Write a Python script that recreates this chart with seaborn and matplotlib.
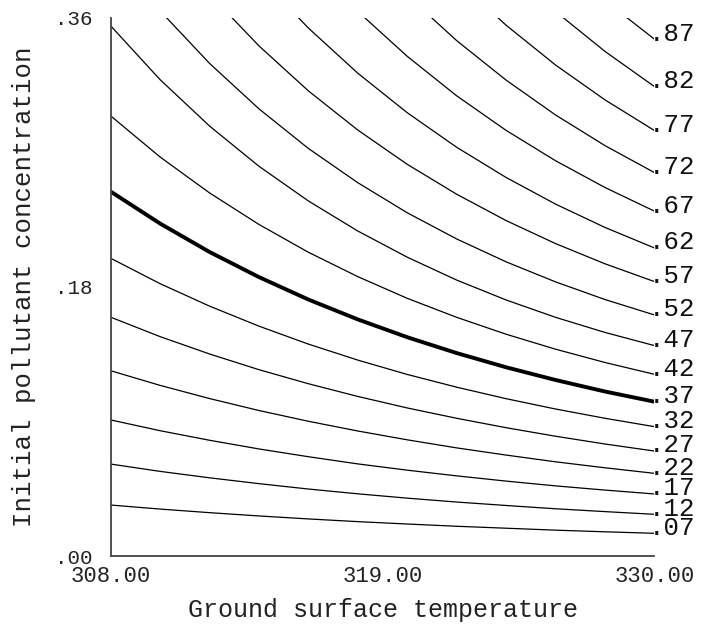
import numpy as np
import pandas as pd
import matplotlib
matplotlib.use("Agg")
import matplotlib.pyplot as plt
import seaborn as sns

# Ground surface temperature grid (K) shared by every iso-line
temperature = [308, 310, 312, 314, 316, 318, 320, 322, 324, 326, 328, 330]

# Iso-line levels, labelled at the right-hand edge
levels = [0.07, 0.12, 0.17, 0.22, 0.27, 0.32, 0.37, 0.42, 0.47,
          0.52, 0.57, 0.62, 0.67, 0.72, 0.77, 0.82, 0.87]

nan = np.nan
# Initial pollutant concentration along each iso-line (one row per level)
concentration = [
    [0.0341, 0.0314, 0.0290, 0.0268, 0.0248, 0.0230, 0.0214, 0.0199, 0.0186, 0.0173, 0.0162, 0.0152],
    [0.0615, 0.0566, 0.0523, 0.0484, 0.0448, 0.0416, 0.0387, 0.0361, 0.0338, 0.0316, 0.0297, 0.0279],
    [0.0910, 0.0838, 0.0774, 0.0716, 0.0664, 0.0616, 0.0574, 0.0536, 0.0501, 0.0469, 0.0441, 0.0415],
    [0.1239, 0.1141, 0.1053, 0.0973, 0.0901, 0.0836, 0.0777, 0.0723, 0.0675, 0.0630, 0.0590, 0.0553],
    [0.1597, 0.1467, 0.1351, 0.1246, 0.1152, 0.1067, 0.0990, 0.0921, 0.0858, 0.0801, 0.0749, 0.0702],
    [0.1991, 0.1821, 0.1671, 0.1537, 0.1417, 0.1310, 0.1214, 0.1129, 0.1052, 0.0983, 0.0921, 0.0865],
    [0.2437, 0.2223, 0.2033, 0.1865, 0.1715, 0.1582, 0.1463, 0.1357, 0.1262, 0.1177, 0.1100, 0.1032],
    [0.2943, 0.2668, 0.2428, 0.2217, 0.2031, 0.1868, 0.1723, 0.1596, 0.1483, 0.1383, 0.1294, 0.1215],
    [0.3545, 0.3185, 0.2875, 0.2606, 0.2374, 0.2173, 0.1998, 0.1845, 0.1712, 0.1596, 0.1495, 0.1407],
    [nan, 0.3645, 0.3294, 0.2990, 0.2725, 0.2496, 0.2295, 0.2120, 0.1967, 0.1833, 0.1715, 0.1612],
    [nan, nan, 0.3756, 0.3411, 0.3110, 0.2848, 0.2619, 0.2419, 0.2243, 0.2089, 0.1954, 0.1835],
    [nan, nan, nan, 0.3876, 0.3530, 0.3228, 0.2964, 0.2733, 0.2531, 0.2353, 0.2197, 0.2060],
    [nan, nan, nan, nan, nan, 0.3641, 0.3341, 0.3077, 0.2846, 0.2643, 0.2464, 0.2306],
    [nan, nan, nan, nan, nan, nan, 0.3748, 0.3446, 0.3182, 0.2949, 0.2744, 0.2564],
    [nan, nan, nan, nan, nan, nan, nan, 0.3851, 0.3549, 0.3283, 0.3050, 0.2845],
    [nan, nan, nan, nan, nan, nan, nan, nan, nan, 0.3641, 0.3374, 0.3139],
    [nan, nan, nan, nan, nan, nan, nan, nan, nan, nan, 0.3714, 0.3456],
]

highlight_level = 0.37

x_ticks = [308, 319, 330]
x_tick_labels = ["308.00", "319.00", "330.00"]
y_ticks = [0.0, 0.18, 0.36]
y_tick_labels = [".00", ".18", ".36"]

# Long-form table: one row per (level, temperature) point on the chart
rows = []
for lvl, series in zip(levels, concentration):
    for t, c in zip(temperature, series):
        if not np.isnan(c):
            rows.append({"level": lvl, "temperature": t, "concentration": c})
df = pd.DataFrame(rows)

sns.set_theme(style="white")
plt.rcParams["font.family"] = ["Liberation Mono", "DejaVu Sans Mono"]

fig = plt.figure(figsize=(7.02, 6.28), dpi=100)
ax = fig.add_axes([0.1577, 0.1146, 0.7746, 0.8573])

thin = df[df["level"] != highlight_level]
bold = df[df["level"] == highlight_level]
sns.lineplot(data=thin, x="temperature", y="concentration", units="level",
             estimator=None, color="black", linewidth=0.9, legend=False, ax=ax)
sns.lineplot(data=bold, x="temperature", y="concentration",
             estimator=None, color="black", linewidth=2.8, legend=False, ax=ax)

ax.set_xlim(308, 330)
ax.set_ylim(0, 0.36)

# Level labels at the end of each line; the leading dot sits on the line end
for lvl, series in zip(levels, concentration):
    label = f"{lvl:.2f}".lstrip("0")
    ax.annotate(label, xy=(temperature[-1], series[-1]), xytext=(-4, -1),
                textcoords="offset points", ha="left", va="baseline",
                fontsize=18.5, color="#111111", annotation_clip=False)

ax.set_xticks(x_ticks)
ax.set_xticklabels(x_tick_labels)
ax.set_yticks(y_ticks)
ax.set_yticklabels(y_tick_labels)
ax.tick_params(direction="in", length=6, width=1, color="black")
ax.tick_params(axis="x", labelsize=16, labelcolor="#222222", pad=7)
ax.tick_params(axis="y", labelsize=15, labelcolor="#222222", pad=13)

for side in ("top", "right"):
    ax.spines[side].set_visible(False)
for side in ("left", "bottom"):
    ax.spines[side].set_color("#444444")
    ax.spines[side].set_linewidth(1.3)

ax.set_xlabel("Ground surface temperature", fontsize=18, color="#222222", labelpad=8)
ax.set_ylabel("Initial pollutant concentration", fontsize=18.5, color="#222222", labelpad=14)

fig.savefig("out.png", dpi=100, facecolor="white")
